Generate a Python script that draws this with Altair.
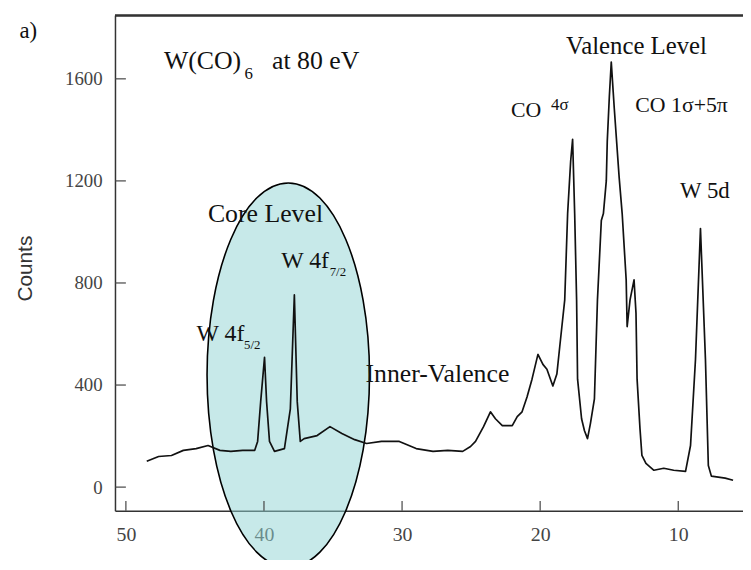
import altair as alt
import pandas as pd

# ---- spectrum (binding energy in eV, counts) ----
energy = [48.49, 47.63, 46.70, 45.84, 44.91, 44.05, 43.19, 42.40, 41.54, 40.67,
          40.46, 40.24, 39.96, 39.81, 39.60, 39.24, 38.52, 38.09, 37.80, 37.59,
          37.37, 37.09, 36.15, 35.22, 34.36, 33.43, 32.57, 31.49, 30.20, 28.98,
          27.76, 26.69, 25.61, 25.04, 24.68, 24.10, 23.60, 23.24, 22.74, 22.02,
          21.66, 21.31, 20.95, 20.59, 20.16, 19.80, 19.51, 19.08, 18.79, 18.58,
          18.22, 18.01, 17.79, 17.65, 17.50, 17.36, 17.29, 17.00, 16.79, 16.57,
          16.36, 16.07, 15.85, 15.57, 15.42, 15.21, 15.14, 14.99, 14.85, 14.71,
          14.63, 14.28, 14.06, 13.77, 13.70, 13.49, 13.20, 13.06, 12.98, 12.77,
          12.63, 12.34, 11.76, 11.05, 10.33, 9.47, 9.11, 8.75, 8.39, 8.03,
          7.82, 7.60, 7.10, 6.60, 6.03]
counts = [101, 120, 124, 144, 151, 163, 144, 140, 144, 144,
          179, 334, 509, 334, 179, 140, 151, 307, 753, 334,
          179, 190, 202, 237, 210, 186, 171, 179, 179, 151,
          140, 144, 140, 159, 179, 237, 295, 268, 241, 241,
          276, 295, 353, 423, 520, 481, 462, 396, 443, 551,
          734, 1072, 1278, 1363, 1072, 734, 423, 268, 221, 190,
          249, 346, 734, 1045, 1072, 1200, 1355, 1530, 1666, 1549,
          1483, 1215, 1072, 812, 629, 734, 812, 683, 423, 229,
          124, 93, 66, 74, 66, 62, 163, 501, 1013, 501,
          85, 43, 39, 35, 27]

x_ticks = [50, 40, 30, 20, 10]
y_ticks = [0, 400, 800, 1200, 1600]

# ---- annotations (text, energy, counts) ----
label_text = ["a)", "W(CO)", "6", "at 80 eV", "Valence Level", "CO", "4σ",
              "CO 1σ+5π", "W 5d", "Core Level", "W 4f", "7/2", "W 4f", "5/2",
              "Inner-Valence"]
label_x = [57.07, 44.45, 41.10, 36.26, 13.02, 21.02, 18.58,
           9.76, 8.07, 39.89, 37.02, 34.65, 43.15, 40.85, 27.44]
label_y = [1760, 1638, 1600, 1638, 1697, 1452, 1479,
           1472, 1134, 1037, 858, 827, 571, 542, 412]
label_size = [23, 26, 17, 26, 25, 22, 17, 22, 23, 26, 24, 13, 24, 13, 26]

# ---- highlighted region (ellipse centre) ----
ellipse_x = [38.24]
ellipse_y = [439]

W, H = 634, 500
xs = alt.Scale(domain=[5.31, 50.79], reverse=True, nice=False, zero=False)
ys = alt.Scale(domain=[-93, 1848], nice=False, zero=False)

spec_df = pd.DataFrame({"energy": energy, "counts": counts})
lab_df = pd.DataFrame({"t": label_text, "x": label_x, "y": label_y, "fs": label_size})
ell_df = pd.DataFrame({"x": ellipse_x, "y": ellipse_y})
xt_df = pd.DataFrame({"v": x_ticks})
yt_df = pd.DataFrame({"v": y_ticks})

serif = "Liberation Serif"

rx, ry = 82, 194
ell_path = "M 0 -1 A {r:.4f} 1 0 1 1 0 1 A {r:.4f} 1 0 1 1 0 -1 Z".format(r=rx / ry)
ellipse = alt.Chart(ell_df).mark_point(
    shape=ell_path, filled=True, fill="#8fd3d3", fillOpacity=0.5,
    stroke="#000", strokeWidth=1.6, strokeOpacity=1, opacity=1,
    size=(2 * ry) ** 2).encode(
    x=alt.X("x:Q", scale=xs,
            axis=alt.Axis(values=x_ticks, title=None, grid=False, ticks=False,
                          labelFont=serif, labelFontSize=20, labelColor="#444",
                          labelPadding=14, domainColor="#333", domainWidth=1.5)),
    y=alt.Y("y:Q", scale=ys,
            axis=alt.Axis(values=y_ticks, format="d", title="Counts", grid=False, ticks=False,
                          labelFont=serif, labelFontSize=19, labelColor="#444",
                          labelPadding=13, domainColor="#333", domainWidth=1.5,
                          titleFont="Liberation Sans", titleFontSize=21,
                          titleFontWeight="normal", titleColor="#333",
                          titleAngle=270, titleAlign="center", titleBaseline="middle",
                          titleX=-90, titleY=255)),
)

line = alt.Chart(spec_df).mark_line(color="#111", strokeWidth=1.7, strokeJoin="round").encode(
    x=alt.X("energy:Q", scale=xs),
    y=alt.Y("counts:Q", scale=ys),
    order="energy:Q",
)

xtick = alt.Chart(xt_df).mark_rule(color="#444", strokeWidth=1.2).encode(
    x=alt.X("v:Q", scale=xs), y=alt.value(H), y2=alt.value(H - 10))
ytick = alt.Chart(yt_df).mark_rule(color="#444", strokeWidth=1.2).encode(
    y=alt.Y("v:Q", scale=ys), x=alt.value(0), x2=alt.value(11))
top = alt.Chart(xt_df).mark_rule(color="#333", strokeWidth=1.5).encode(
    x=alt.value(0), x2=alt.value(W), y=alt.value(0))

labels = alt.Chart(lab_df).mark_text(font=serif, color="#111", align="center",
                                     baseline="alphabetic").encode(
    x=alt.X("x:Q", scale=xs), y=alt.Y("y:Q", scale=ys),
    text="t:N", size=alt.Size("fs:Q", scale=None))

chart = alt.layer(ellipse, line, xtick, ytick, top, labels).properties(
    width=W, height=H, autosize="none",
    padding={"left": 108, "top": 5, "right": 0, "bottom": 47},
).configure_view(stroke=None)

chart.save("out.html", embed_options={"renderer": "svg", "actions": False})
